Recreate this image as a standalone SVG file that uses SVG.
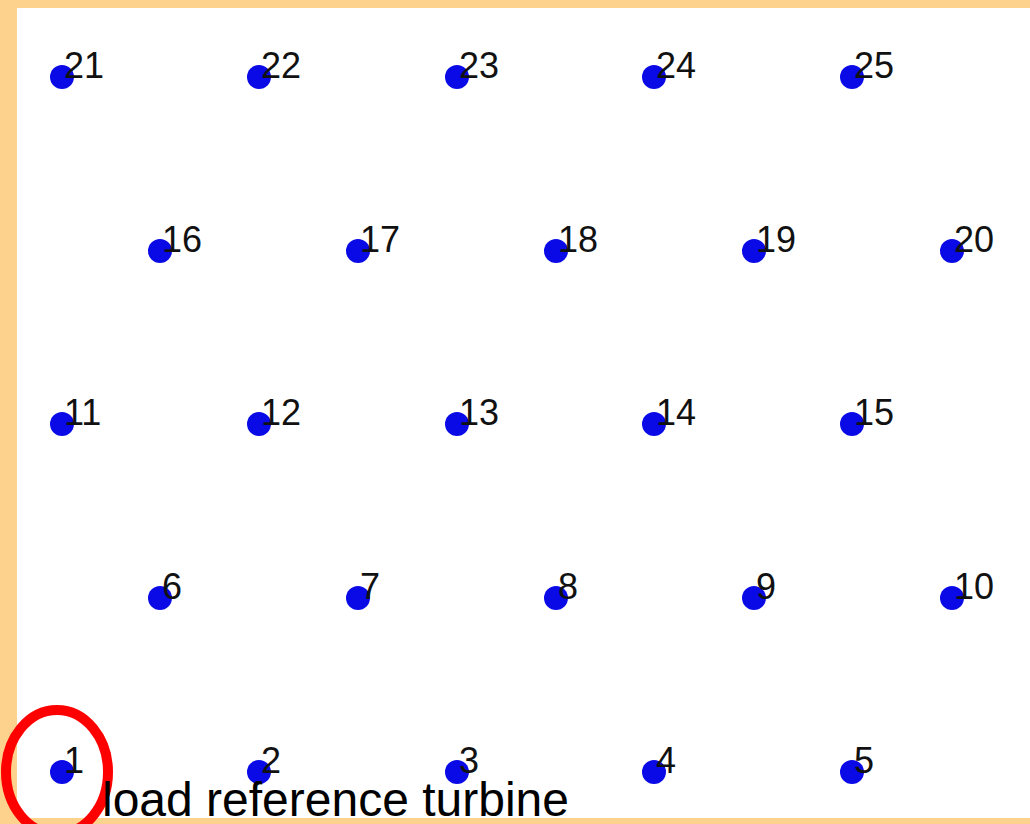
<svg xmlns="http://www.w3.org/2000/svg" width="1030" height="824" viewBox="0 0 1030 824">
<style>
.d{fill:#0a0ae6}
.t{font-family:"Liberation Sans",Arial,sans-serif;font-size:36px;fill:#111}
.big{font-family:"Liberation Sans",Arial,sans-serif;font-size:48px;fill:#000}
</style>
<rect x="0" y="0" width="1030" height="824" fill="#fcd28c"/>
<rect x="17" y="8" width="1013" height="810" fill="#ffffff"/>
<g id="connectors"></g>
<g id="n21"><circle class="d" cx="62" cy="77" r="12"/><text class="t" x="64" y="78">21</text></g>
<g id="n22"><circle class="d" cx="259" cy="77" r="12"/><text class="t" x="261" y="78">22</text></g>
<g id="n23"><circle class="d" cx="457" cy="77" r="12"/><text class="t" x="459" y="78">23</text></g>
<g id="n24"><circle class="d" cx="654" cy="77" r="12"/><text class="t" x="656" y="78">24</text></g>
<g id="n25"><circle class="d" cx="852" cy="77" r="12"/><text class="t" x="854" y="78">25</text></g>
<g id="n16"><circle class="d" cx="160" cy="251" r="12"/><text class="t" x="162" y="252">16</text></g>
<g id="n17"><circle class="d" cx="358" cy="251" r="12"/><text class="t" x="360" y="252">17</text></g>
<g id="n18"><circle class="d" cx="556" cy="251" r="12"/><text class="t" x="558" y="252">18</text></g>
<g id="n19"><circle class="d" cx="754" cy="251" r="12"/><text class="t" x="756" y="252">19</text></g>
<g id="n20"><circle class="d" cx="952" cy="251" r="12"/><text class="t" x="954" y="252">20</text></g>
<g id="n11"><circle class="d" cx="62" cy="424" r="12"/><text class="t" x="64" y="425">11</text></g>
<g id="n12"><circle class="d" cx="259" cy="424" r="12"/><text class="t" x="261" y="425">12</text></g>
<g id="n13"><circle class="d" cx="457" cy="424" r="12"/><text class="t" x="459" y="425">13</text></g>
<g id="n14"><circle class="d" cx="654" cy="424" r="12"/><text class="t" x="656" y="425">14</text></g>
<g id="n15"><circle class="d" cx="852" cy="424" r="12"/><text class="t" x="854" y="425">15</text></g>
<g id="n6"><circle class="d" cx="160" cy="598" r="12"/><text class="t" x="162" y="599">6</text></g>
<g id="n7"><circle class="d" cx="358" cy="598" r="12"/><text class="t" x="360" y="599">7</text></g>
<g id="n8"><circle class="d" cx="556" cy="598" r="12"/><text class="t" x="558" y="599">8</text></g>
<g id="n9"><circle class="d" cx="754" cy="598" r="12"/><text class="t" x="756" y="599">9</text></g>
<g id="n10"><circle class="d" cx="952" cy="598" r="12"/><text class="t" x="954" y="599">10</text></g>
<g id="n1"><circle class="d" cx="62" cy="772" r="12"/><text class="t" x="64" y="773">1</text></g>
<g id="n2"><circle class="d" cx="259" cy="772" r="12"/><text class="t" x="261" y="773">2</text></g>
<g id="n3"><circle class="d" cx="457" cy="772" r="12"/><text class="t" x="459" y="773">3</text></g>
<g id="n4"><circle class="d" cx="654" cy="772" r="12"/><text class="t" x="656" y="773">4</text></g>
<g id="n5"><circle class="d" cx="852" cy="772" r="12"/><text class="t" x="854" y="773">5</text></g>
<g id="reference">
<ellipse cx="57" cy="772" rx="51" ry="62" fill="none" stroke="#ff0000" stroke-width="10"/>
<text class="big" x="102" y="816">load reference turbine</text>
</g>
</svg>
